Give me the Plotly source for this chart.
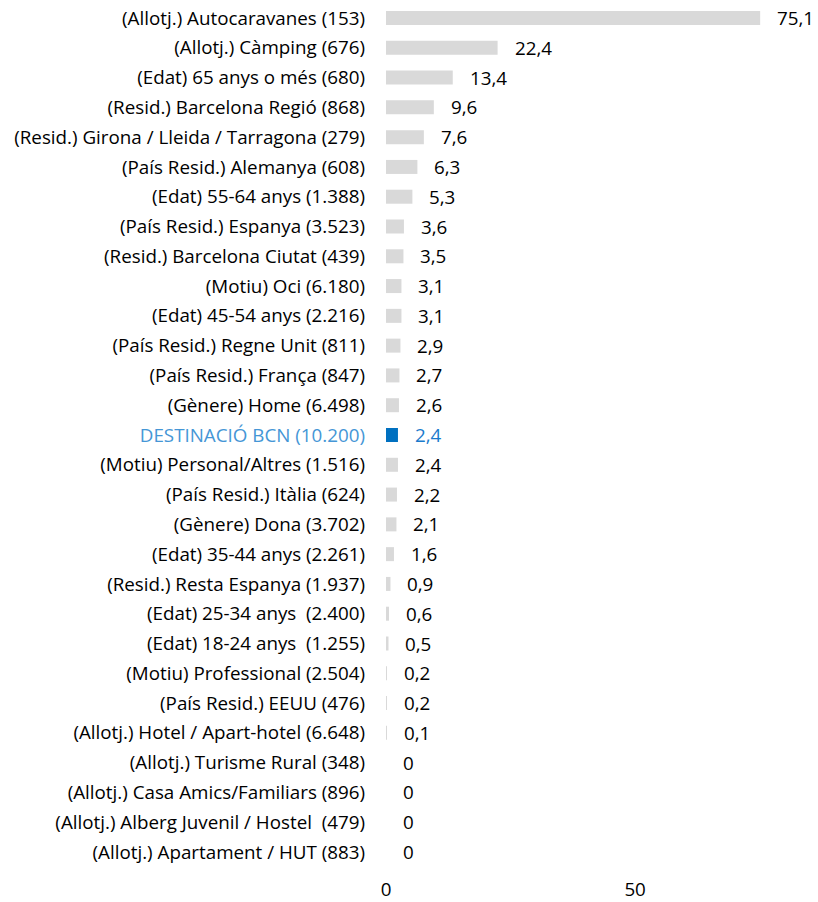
import plotly.graph_objects as go

categories = [
    "(Allotj.) Autocaravanes (153)",
    "(Allotj.) Càmping (676)",
    "(Edat) 65 anys o més (680)",
    "(Resid.) Barcelona Regió (868)",
    "(Resid.) Girona / Lleida / Tarragona (279)",
    "(País Resid.) Alemanya (608)",
    "(Edat) 55-64 anys (1.388)",
    "(País Resid.) Espanya (3.523)",
    "(Resid.) Barcelona Ciutat (439)",
    "(Motiu) Oci (6.180)",
    "(Edat) 45-54 anys (2.216)",
    "(País Resid.) Regne Unit (811)",
    "(País Resid.) França (847)",
    "(Gènere) Home (6.498)",
    "DESTINACIÓ BCN (10.200)",
    "(Motiu) Personal/Altres (1.516)",
    "(País Resid.) Itàlia (624)",
    "(Gènere) Dona (3.702)",
    "(Edat) 35-44 anys (2.261)",
    "(Resid.) Resta Espanya (1.937)",
    "(Edat) 25-34 anys  (2.400)",
    "(Edat) 18-24 anys  (1.255)",
    "(Motiu) Professional (2.504)",
    "(País Resid.) EEUU (476)",
    "(Allotj.) Hotel / Apart-hotel (6.648)",
    "(Allotj.) Turisme Rural (348)",
    "(Allotj.) Casa Amics/Familiars (896)",
    "(Allotj.) Alberg Juvenil / Hostel  (479)",
    "(Allotj.) Apartament / HUT (883)",
]
values = [75.1, 22.4, 13.4, 9.6, 7.6, 6.3, 5.3, 3.6, 3.5, 3.1, 3.1, 2.9, 2.7, 2.6,
          2.4, 2.4, 2.2, 2.1, 1.6, 0.9, 0.6, 0.5, 0.2, 0.2, 0.1, 0, 0, 0, 0]
highlight = "DESTINACIÓ BCN (10.200)"
x_ticks = [0, 50]

GREY = "#d9d9d9"
BAR_BLUE = "#0070c0"
LABEL_BLUE = "#4596d6"
VALUE_BLUE = "#1a7acc"
FONT = "Open Sans"
FS = 18.8

colors = [BAR_BLUE if c == highlight else GREY for c in categories]
ticktext = [f'<span style="color:{LABEL_BLUE}">{c}</span>' if c == highlight else c
            for c in categories]


def fmt(v):
    return "0" if v == 0 else f"{v:.1f}".replace(".", ",")


fig = go.Figure(go.Bar(
    x=values, y=categories, orientation="h",
    marker=dict(color=colors, line=dict(width=0)),
    hoverinfo="skip",
))

for c, v in zip(categories, values):
    fig.add_annotation(
        x=v, y=c, text=fmt(v), showarrow=False, xanchor="left", xshift=15,
        font=dict(family=FONT, size=FS, color=VALUE_BLUE if c == highlight else "#000000"),
    )

fig.update_layout(
    width=818, height=902,
    margin=dict(l=386, r=11, t=3, b=35, autoexpand=False),
    paper_bgcolor="white", plot_bgcolor="white",
    bargap=0.53,
    showlegend=False,
    font=dict(family=FONT, size=FS, color="#000000"),
)
fig.update_xaxes(
    range=[0, 84.5], tickvals=x_ticks, ticktext=[str(t) for t in x_ticks],
    showgrid=False, zeroline=False, showline=False, ticks="",
    ticklabelstandoff=9, automargin=False,
    tickfont=dict(family=FONT, size=FS, color="#000000"),
)
fig.update_yaxes(
    autorange="reversed", tickvals=categories, ticktext=ticktext,
    showgrid=False, zeroline=False, showline=False, ticks="",
    ticklabelstandoff=20, automargin=False,
    tickfont=dict(family=FONT, size=FS, color="#000000"),
)

fig.write_html("out.html", config={"displayModeBar": False},
               post_script="document.body.style.margin='0';")
